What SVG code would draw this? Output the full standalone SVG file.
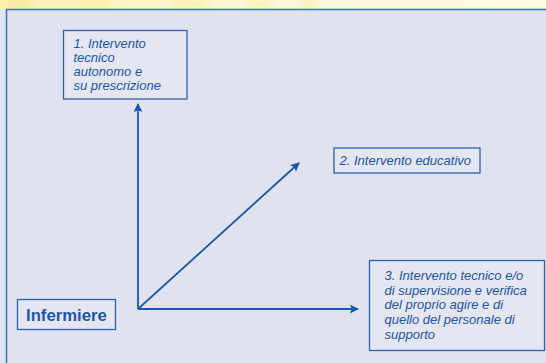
<svg xmlns="http://www.w3.org/2000/svg" width="546" height="363" viewBox="0 0 546 363">
<defs>
<style>
.box{fill:#e4e6f2;stroke:#2a60ad;stroke-width:1.3}
.t{font-family:"Liberation Sans",Arial,sans-serif;font-style:italic;font-size:13px;fill:#1d55a6}
.tb{font-family:"Liberation Sans",Arial,sans-serif;font-weight:bold;font-size:16.7px;fill:#1d55a6}
.conn{stroke:#1b57a8;stroke-width:1.8;fill:none}
</style>
<marker id="ah" viewBox="0 0 10 10" refX="9" refY="5" markerWidth="10" markerHeight="9" markerUnits="userSpaceOnUse" orient="auto">
<path d="M0,0 L10,5 L0,10 L2,5 Z" fill="#1b57a8"/>
</marker>
<linearGradient id="yel" x1="0" y1="0" x2="1" y2="0">
<stop offset="0" stop-color="#fbf0b0"/>
<stop offset="0.3" stop-color="#fdf6cc"/>
<stop offset="0.55" stop-color="#fdf9dc"/>
<stop offset="1" stop-color="#fefbe0"/>
</linearGradient>
<filter id="soft" x="-50%" y="-50%" width="200%" height="200%">
<feGaussianBlur stdDeviation="3"/>
</filter>
</defs>
<rect x="0" y="0" width="546" height="12" fill="url(#yel)"/>
<g opacity="0.5" filter="url(#soft)">
<ellipse cx="20" cy="4" rx="14" ry="4" fill="#f7e27a"/>
<ellipse cx="95" cy="4" rx="18" ry="4" fill="#f9e890"/>
<ellipse cx="190" cy="4" rx="20" ry="4" fill="#f8e684"/>
<ellipse cx="260" cy="4" rx="14" ry="4" fill="#fae990"/>
<ellipse cx="308" cy="4" rx="8" ry="4" fill="#f7e27a"/>
</g>
<rect x="0" y="10" width="546" height="353" fill="#e2e4f1"/>
<rect x="6.5" y="9.5" width="545" height="360" fill="#e0e2f0" stroke="#3a78c0" stroke-width="1.6"/>
<g id="connectors">
<line class="conn" x1="138" y1="309" x2="138" y2="104" marker-end="url(#ah)"/>
<line class="conn" x1="138" y1="309" x2="299" y2="163" marker-end="url(#ah)"/>
<line class="conn" x1="138" y1="309" x2="358" y2="309" marker-end="url(#ah)"/>
</g>
<g id="node1">
<rect class="box" x="63.5" y="30.5" width="123.5" height="68.5"/>
<text class="t" x="73.5" y="48">1. Intervento</text>
<text class="t" x="73.5" y="62">tecnico</text>
<text class="t" x="73.5" y="76">autonomo e</text>
<text class="t" x="73.5" y="90">su prescrizione</text>
</g>
<g id="node2">
<rect class="box" x="334" y="148" width="146" height="25"/>
<text class="t" x="339.5" y="164.5">2. Intervento educativo</text>
</g>
<g id="node3">
<rect class="box" x="369.5" y="260.5" width="175" height="90"/>
<text class="t" x="384.5" y="279.5"> 3. Intervento tecnico e/o</text>
<text class="t" x="384.5" y="294.5">di supervisione e verifica</text>
<text class="t" x="384.5" y="309.3">del proprio agire e di</text>
<text class="t" x="384.5" y="324">quello del personale di</text>
<text class="t" x="384.5" y="338.5">supporto</text>
</g>
<g id="infermiere">
<rect class="box" x="17.5" y="299.5" width="98" height="30"/>
<text class="tb" x="26" y="320.7">Infermiere</text>
</g>
</svg>
